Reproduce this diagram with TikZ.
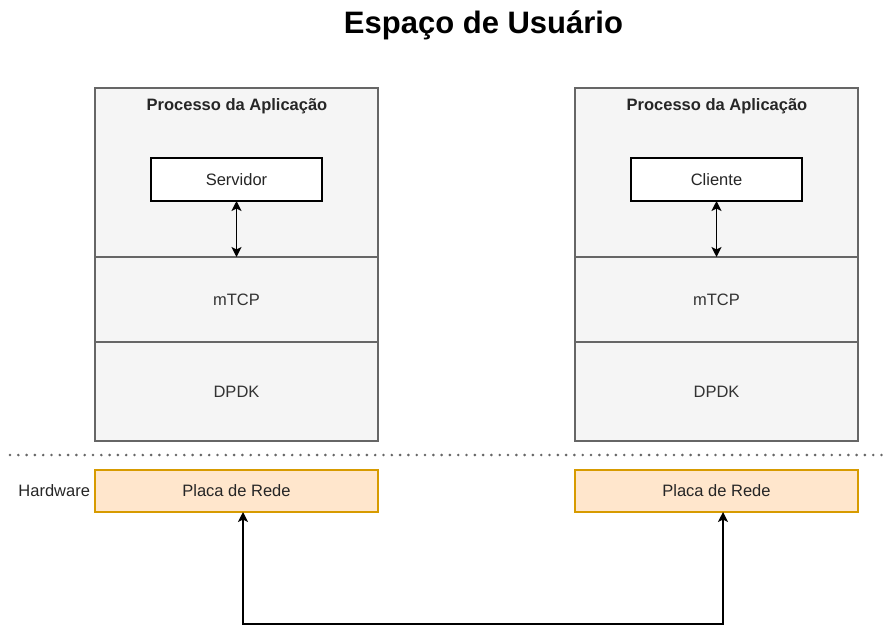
\documentclass[tikz,border=0pt]{standalone}
\usepackage{fontspec}
\setmainfont{Liberation Sans}
\usetikzlibrary{arrows.meta,calc}

\definecolor{boxfill}{HTML}{F5F5F5}
\definecolor{boxline}{HTML}{666666}
\definecolor{boxtext}{HTML}{333333}
\definecolor{nicfill}{HTML}{FFE6CC}
\definecolor{nicline}{HTML}{D79B00}

\tikzset{
  base/.style={rectangle, outer sep=0pt, inner sep=0pt, line width=1.3pt,
    font=\fontsize{16.5}{19}\selectfont, anchor=north west},
  layer/.style={base, draw=boxline, fill=boxfill, text=boxtext,
    minimum width=283pt},
  appbox/.style={base, draw=black, fill=white, text=black!85,
    minimum width=171pt, minimum height=43pt},
  nic/.style={base, draw=nicline, fill=nicfill, text=black!85,
    minimum width=283pt, minimum height=42pt},
  plain/.style={inner sep=0pt, outer sep=0pt, text=black!85,
    font=\fontsize{16.5}{19}\selectfont},
  link/.style={line width=1.4pt, black,
    {Stealth[length=10pt,width=10pt,inset=2.5pt]}-{Stealth[length=10pt,width=10pt,inset=2.5pt]}},
  sep/.style={line width=2.9pt, boxline, line cap=round,
    dash pattern=on 0pt off 8.3pt}
}

\begin{document}
\begin{tikzpicture}[x=1pt,y=-1pt]
  \useasboundingbox (0,0) rectangle (888,626);

  % title
  \node[plain, font=\bfseries\fontsize{31}{34}\selectfont, text=black] (title) at (483.5,25) {Espaço de Usuário};

  % left application stack
  \node[layer, minimum height=169pt] (appL) at (95,88) {};
  \node[layer, minimum height=85pt] (mtcpL) at (95,257) {mTCP};
  \node[layer, minimum height=99pt] (dpdkL) at (95,342) {DPDK};
  \node[plain, font=\bfseries\fontsize{16.5}{19}\selectfont] (procL) at (237,106.5) {Processo da Aplicação};
  \node[appbox] (servL) at (151,158) {Servidor};
  \draw[link] (servL.south) -- (servL.south |- mtcpL.north);

  % right application stack
  \node[layer, minimum height=169pt] (appR) at (575,88) {};
  \node[layer, minimum height=85pt] (mtcpR) at (575,257) {mTCP};
  \node[layer, minimum height=99pt] (dpdkR) at (575,342) {DPDK};
  \node[plain, font=\bfseries\fontsize{16.5}{19}\selectfont] (procR) at (717,106.5) {Processo da Aplicação};
  \node[appbox] (cliR) at (631,158) {Cliente};
  \draw[link] (cliR.south) -- (cliR.south |- mtcpR.north);

  % user space / hardware boundary
  \coordinate (sepA) at (10,455);
  \coordinate (sepB) at (888,455);
  \draw[sep] (sepA) -- (sepB);

  % network cards
  \node[nic] (nicL) at (95,470) {Placa de Rede};
  \node[nic] (nicR) at (575,470) {Placa de Rede};
  \node[plain, anchor=east] (hw) at (90,491) {Hardware};

  % physical link between the cards
  \draw[link] ([xshift=6.5pt]nicL.south) -- ++(0,112) -| ([xshift=6.5pt]nicR.south);
\end{tikzpicture}
\end{document}
